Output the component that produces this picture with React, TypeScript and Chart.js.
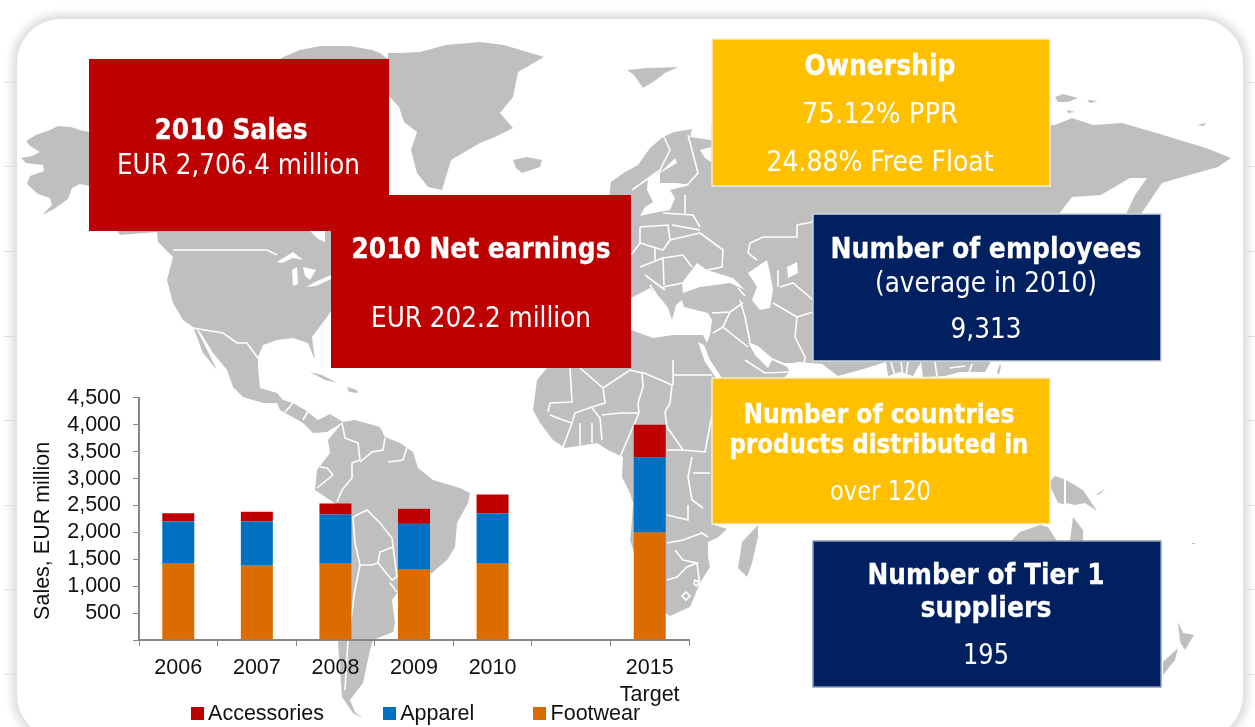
import React, { useEffect, useRef } from "react";
import { Chart, registerables } from "chart.js";

Chart.register(...registerables);

const categories: (string | string[])[] = ["2006", "2007", "2008", "2009", "2010", "", ["2015", "Target"]];
const footwear = [1432, 1395, 1432, 1321, 1432, null, 2000];
const apparel = [772, 809, 901, 839, 926, null, 1395];
const accessories = [154, 179, 204, 278, 348, null, 605];

const FILL = "#bfbfbf";

const landPaths = [
  // Alaska & Canada
  "M89,132 L80,130 71,127 58,126 50,130 36,135 26,141 30,146 40,152 32,156 21,158 26,163 43,165 44,171 30,176 27,184 38,194 50,198 52,205 45,212 42,215 54,209 68,199 72,188 80,184 89,186 120,235 157,232 158,242 173,257 167,280 173,303 183,320 193,327 197,337 203,353 217,370 207,350 200,332 213,353 227,370 233,387 243,397 263,403 277,403 280,410 303,423 313,433 327,432 343,422 330,414 318,420 305,410 293,403 283,400 277,393 283,382 293,380 283,382 277,393 260,388 258,367 258,357 263,345 277,340 293,338 308,343 315,360 312,337 327,317 345,290 345,232 331,200 300,90 280,60 389,60 389,231 120,231 Z",
  // Arctic Canada
  "M281,58 L300,50 320,46 350,46 372,50 380,53 389,60 281,60 Z",
  // Greenland
  "M388,53 L400,53 420,52 446,45 480,42 504,45 544,57 518,72 513,97 500,113 513,128 495,137 480,143 451,160 442,190 428,187 417,173 411,150 417,132 404,122 399,107 388,95 Z",
  // Iceland
  "M513,160 L527,157 542,160 540,167 522,173 516,168 Z",
  // Svalbard
  "M627,70 L647,68 678,67 665,73 656,80 643,88 634,75 Z",
  // Arctic islands
  "M1055,97 L1063,94 1078,98 1068,102 1058,102 Z",
  "M1087,100 L1098,101 1090,103 Z",
  "M1067,110 L1075,112 1068,113 Z",
  "M1197,125 L1206,123 1204,126 Z",
  // Eurasia
  "M609,197 L611,182 625,172 638,165 650,148 663,137 674,132 692,129 690,137 711,140 711,125 1050,125 1055,125 1072,118 1093,125 1122,123 1160,134 1176,139 1206,148 1231,158 1218,167 1193,174 1162,183 1141,214 1126,214 1135,195 1147,178 1130,178 1101,195 1072,197 1059,214 1000,300 990,363 985,372 960,372 945,376 923,377 921,362 913,376 900,372 888,376 886,362 860,370 838,376 830,370 822,364 800,362 786,364 790,372 782,380 720,380 706,345 710,335 712,320 708,313 684,307 682,300 676,305 672,320 668,308 662,300 650,288 631,298 600,298 600,197 Z",
  // Africa
  "M631,330 L653,338 673,335 703,335 708,345 722,378 712,524 727,529 717,538 708,542 708,557 710,567 700,583 690,607 670,616 665,613 650,580 635,555 630,540 632,520 633,503 630,493 622,477 623,457 608,450 597,443 565,448 553,440 540,423 533,410 537,380 547,368 560,360 620,345 Z",
  // Madagascar
  "M758,525 L758,537 752,563 747,577 738,568 742,542 Z",
  // South America
  "M343,422 L355,420 380,427 385,437 400,443 413,452 418,468 433,480 460,488 470,493 468,503 457,523 455,547 447,560 432,573 410,583 398,592 392,600 395,623 393,632 373,640 370,650 363,683 350,700 355,712 363,718 353,713 342,697 338,643 348,600 345,540 340,507 315,490 317,470 330,453 328,440 Z",
  // Caribbean
  "M310,372 L322,375 337,383 325,380 Z",
  "M347,387 L357,390 358,393 349,392 Z",
  // New Guinea
  "M1051,480 L1055,476 1064,479 1064,504 1058,503 1051,488 Z",
  "M1066,480 L1083,490 1097,511 1085,503 1075,505 1066,503 Z",
  "M1095,495 L1105,489 1100,494 Z",
  // Australia
  "M1011,541 L1020,532 1040,525 1048,527 1057,541 Z",
  "M1070,541 L1073,517 1083,530 1083,541 Z",
  // New Zealand
  "M1178,622 L1183,633 1194,635 1185,650 1180,642 Z",
  "M1163,662 L1178,648 1175,660 1163,675 Z",
  "M1192,543 L1195,543 1195,544 1192,544 Z",
  // Hainan-like island
  "M997,372 L1000,364 1001,366 999,375 Z",
];

const waterPaths = [
  // Black Sea
  "M682,283 L697,263 707,270 733,278 745,290 730,283 700,287 683,293 Z",
  // Caspian
  "M748,273 L767,260 770,273 773,290 770,308 760,310 752,300 757,287 Z",
  // Aral
  "M787,267 L797,262 798,273 788,278 Z",
  // Baltic
  "M675,158 L663,170 648,178 647,190 653,202 645,207 640,216 653,213 670,210 675,198 670,190 690,185 677,183 660,183 660,173 677,163 Z",
  // White Sea
  "M700,150 L711,147 711,162 705,158 Z",
  // Red Sea
  "M698,342 L704,345 710,360 722,378 716,378 705,362 Z",
  // Persian Gulf + Arabian Sea
  "M748,342 L758,346 772,358 784,363 800,363 790,368 772,360 768,368 755,355 Z",
  "M786,364 L800,362 822,366 830,372 838,378 782,380 790,372 Z",
  // Great Lakes
  "M277,262 L293,252 303,260 293,258 282,263 Z",
  "M292,270 L297,267 298,284 293,286 Z",
  "M303,267 L316,270 310,280 305,276 Z",
  "M306,287 L315,282 331,275 331,279 316,286 Z",
  // Hudson Bay bottom
  "M310,231 L325,231 325,242 318,239 Z",
  // Gulf of California
  "M196,328 L200,332 213,353 206,348 Z",
];

const borderLines = [
  // North America
  "M173,250 L267,250 277,255", "M193,328 L223,333 237,343 247,343 258,358",
  "M293,403 L285,412", "M303,420 L312,404",
  // South America
  "M342,423 L345,438 358,443 360,460 352,463 352,478 342,490 337,502",
  "M317,488 L333,475 327,468 320,467",
  "M353,517 L367,510 380,523 392,538 393,547 380,552 378,563 372,565 360,565 355,543 353,517",
  "M378,563 L392,580 397,577", "M393,547 L397,577", "M360,565 L355,590 348,640 345,690",
  "M360,462 L372,452 383,450 385,438", "M388,462 L403,460 407,447", "M390,583 L397,592",
  // Africa
  "M570,368 L572,402 550,403 548,412", "M580,368 L603,388 605,403 592,407 575,413 572,423 563,420 550,415",
  "M603,388 L630,370 642,373 643,387 638,403 639,413", "M642,372 L672,385 670,403 665,412 667,427 683,450 705,452 712,415",
  "M673,360 L673,385", "M673,375 L712,375", "M592,408 L600,418 602,440", "M580,423 L580,445", "M592,423 L592,443", "M572,423 L563,447",
  "M602,415 L620,413 639,413", "M639,413 L620,457", "M667,450 L683,450", "M692,457 L688,477 692,500 703,508", "M693,473 L710,473",
  "M667,515 L688,520 688,505", "M667,543 L683,540 702,533 708,537", "M675,550 L683,560 697,563 687,567 677,577 667,580", "M697,563 L700,587",
  "M686,592 L690,596 686,600 682,596 Z", "M695,580 L699,582 697,586 694,584 Z",
  // Europe
  "M663,135 L670,150 660,170 632,190", "M688,135 L692,150 698,173 687,185", "M685,195 L685,213", "M663,213 L693,215 700,227",
  "M672,225 L700,230", "M700,233 L723,250 722,267 707,270", "M640,227 L668,225 670,240 663,250 640,243 640,227",
  "M663,258 L683,255 692,267", "M640,267 L663,258 664,285", "M645,275 L665,290", "M663,287 L683,283", "M631,255 L640,243",
  "M670,240 L700,233", "M655,248 L655,262", "M650,285 L660,300",
  // Asia
  "M813,222 L797,225 797,237 763,237 750,243 748,253 757,260", "M778,270 L778,287", "M780,287 L793,283 813,300", "M773,303 L797,317 795,337 805,357 804,365",
  "M740,300 L745,317 750,342", "M738,288 L745,296", "M712,313 L730,312 743,303", "M730,312 L723,327 748,347", "M713,333 L723,327", "M797,317 L813,312",
  "M745,360 L765,373 790,372", "M891,362 L895,376 M901,362 L903,376 M908,362 L906,376", "M935,362 L937,376 M950,368 L965,366 M972,364 L968,376", "M813,222 L813,214",
];

const frameMarks = [82, 166, 251, 336, 420, 505, 589, 674];

type Line = { text: string; y: number; width: number; bold?: boolean; size?: number; cx?: number };
type Box = { x: number; y: number; w: number; h: number; color: string; border?: string; cx: number; lines: Line[] };

const boxes: Box[] = [
  { x: 89, y: 59, w: 300, h: 172, color: "#bd0000", cx: 231, lines: [] },
  { x: 331, y: 195, w: 300, h: 173, color: "#bd0000", cx: 481, lines: [] },
  { x: 712, y: 39, w: 338, h: 147, color: "#ffc000", border: "#f4f0dc", cx: 880, lines: [] },
  { x: 813, y: 214, w: 348, h: 147, color: "#002060", border: "#cdd3e2", cx: 986, lines: [] },
  { x: 712, y: 378, w: 338, h: 146, color: "#ffc000", border: "#f4f0dc", cx: 879, lines: [] },
  { x: 813, y: 541, w: 348, h: 146, color: "#002060", border: "#8d9ab8", cx: 986, lines: [] },
];
boxes[0].lines = [
  { text: "2010 Sales", y: 139, width: 153, bold: true },
  { text: "EUR 2,706.4 million", y: 174, width: 243, cx: 238.5 },
];
boxes[1].lines = [
  { text: "2010 Net earnings", y: 258, width: 259, bold: true },
  { text: "EUR 202.2 million", y: 327, width: 220 },
];
boxes[2].lines = [
  { text: "Ownership", y: 75, width: 151, bold: true },
  { text: "75.12% PPR", y: 123, width: 156 },
  { text: "24.88% Free Float", y: 171, width: 227 },
];
boxes[3].lines = [
  { text: "Number of employees", y: 258, width: 311, bold: true },
  { text: "(average in 2010)", y: 292, width: 222 },
  { text: "9,313", y: 338, width: 71 },
];
boxes[4].lines = [
  { text: "Number of countries", y: 423, width: 271, bold: true, size: 26.5 },
  { text: "products distributed in", y: 453, width: 299, bold: true, size: 26.5 },
  { text: "over 120", y: 500, width: 101, size: 26.5, cx: 880.5 },
];
boxes[5].lines = [
  { text: "Number of Tier 1", y: 584, width: 237, bold: true },
  { text: "suppliers", y: 617, width: 131, bold: true },
  { text: "195", y: 664, width: 46 },
];

function swatch(color: string) {
  const c = document.createElement("canvas");
  c.width = 13;
  c.height = 13;
  const g = c.getContext("2d")!;
  g.fillStyle = color;
  g.fillRect(0, 0, 13, 13);
  return c;
}

const legendShift = {
  id: "legendShift",
  afterLayout(c: any) {
    // keep the wide item padding of the legend without pushing the row below the canvas
    c.legend.top = 265;
    c.legend.left += 64;
    c.legend.right += 64;
  },
};

export default function App() {
  const ref = useRef<HTMLCanvasElement>(null);
  useEffect(() => {
    document.body.style.margin = "0";
    document.body.style.overflow = "hidden";
    document.body.style.background = "#fff";
    const font = { family: "'Liberation Sans', Arial, sans-serif", size: 21.5 };
    const chart = new Chart(ref.current!, {
      type: "bar",
      data: {
        labels: categories as any,
        datasets: [
          { label: "Footwear", data: footwear as any, backgroundColor: "#dc6b00" },
          { label: "Apparel", data: apparel as any, backgroundColor: "#0070c0" },
          { label: "Accessories", data: accessories as any, backgroundColor: "#bd0000" },
        ],
      },
      plugins: [legendShift],
      options: {
        animation: false,
        responsive: false,
        maintainAspectRatio: false,
        layout: { padding: { left: 0, right: 131, top: 10, bottom: 0 } },
        datasets: { bar: { categoryPercentage: 1, barPercentage: 0.407 } },
        plugins: {
          tooltip: { enabled: false },
          title: { display: false },
          legend: {
            position: "bottom",
            maxHeight: 21,
            labels: {
              color: "#111",
              font,
              padding: 65,
              boxWidth: 0.5,
              boxHeight: 13,
              usePointStyle: true,
              generateLabels: (c: any) =>
                c.data.datasets
                  .map((d: any, i: number) => ({
                    text: d.label,
                    datasetIndex: i,
                    fillStyle: d.backgroundColor,
                    strokeStyle: d.backgroundColor,
                    lineWidth: 0,
                    hidden: false,
                    pointStyle: swatch(d.backgroundColor),
                    fontColor: "#111",
                  }))
                  .reverse(),
            },
          },
        },
        scales: {
          x: {
            stacked: true,
            offset: true,
            border: { color: "#868686", width: 2 },
            grid: { display: true, drawOnChartArea: false, drawTicks: true, tickLength: 6, color: "#868686", offset: true },
            ticks: { color: "#111", font: { ...font, lineHeight: 1.24 }, padding: 9, autoSkip: false, maxRotation: 0, minRotation: 0 },
            afterFit: (s: any) => { s.height = 72; },
          },
          y: {
            stacked: true,
            min: 0,
            max: 4500,
            border: { color: "#868686", width: 2 },
            grid: { display: true, drawOnChartArea: false, drawTicks: true, tickLength: 6, color: "#868686" },
            ticks: {
              stepSize: 500,
              autoSkip: false,
              color: "#111",
              font,
              padding: 12,
              callback: (v: any) => (v === 0 ? "" : Number(v).toLocaleString("en-US")),
            },
            title: { display: true, text: "Sales, EUR million    ", color: "#111", font, padding: { top: 10, bottom: 0 } },
            afterFit: (s: any) => { s.width = 119; },
          },
        },
      } as any,
    });
    return () => chart.destroy();
  }, []);

  return (
    <div style={{ position: "fixed", left: 0, top: 0, width: 1255, height: 727, overflow: "hidden", background: "#fff" }}>
      <div style={{ position: "absolute", left: 17, top: 19, width: 1226, height: 720, borderRadius: 44, background: "#fff", boxShadow: "0 0 8px 5px #dcdcdc" }} />
      <svg width={1255} height={727} style={{ position: "absolute", left: 0, top: 0 }}>
        {frameMarks.map((y) => (
          <g key={y} stroke="#dedede" strokeWidth={1}>
            <line x1={4} x2={16} y1={y + 0.5} y2={y + 0.5} />
            <line x1={1244} x2={1255} y1={y + 0.5} y2={y + 0.5} />
          </g>
        ))}
        {landPaths.map((d, i) => <path key={i} d={d} fill={FILL} />)}
        {waterPaths.map((d, i) => <path key={i} d={d} fill="#fff" />)}
        {borderLines.map((d, i) => <path key={i} d={d} fill="none" stroke="#fff" strokeWidth={1.6} />)}
      </svg>
      <canvas ref={ref} width={800} height={360} style={{ position: "absolute", left: 20, top: 373, width: 800, height: 360 }} />
      <svg width={1255} height={727} style={{ position: "absolute", left: 0, top: 0, fontFamily: "'DejaVu Sans', sans-serif" }}>
        {boxes.map((b, i) => (
          <rect key={i} x={b.x} y={b.y} width={b.w} height={b.h} fill={b.color} stroke={b.border ?? "none"} strokeWidth={b.border ? 1.5 : 0} />
        ))}
        {boxes.map((b, i) =>
          b.lines.map((l, j) => (
            <text key={`${i}-${j}`} x={l.cx ?? b.cx} y={l.y} textAnchor="middle" fill="#fff" stroke={l.bold ? "#fff" : "none"} strokeWidth={l.bold ? 0.3 : 0} fontSize={l.size ?? 28} fontWeight={l.bold ? 700 : 400} textLength={l.width} lengthAdjust="spacingAndGlyphs">
              {l.text}
            </text>
          ))
        )}
      </svg>
    </div>
  );
}
